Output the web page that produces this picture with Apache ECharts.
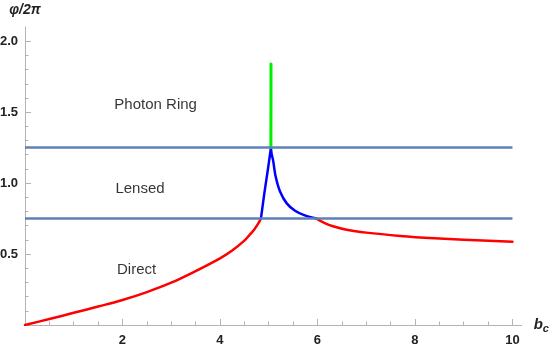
<!DOCTYPE html>
<html><head><meta charset="utf-8">
<script src="https://cdn.jsdelivr.net/npm/echarts@6/dist/echarts.min.js"></script>
<style>html,body{margin:0;padding:0;background:#fff}#c{width:552px;height:347px}</style>
</head><body><div id="c"></div>
<script>
// Direct (red, left branch)
const directLeftX = [0, 0.5, 1, 1.5, 2, 2.5, 3, 3.5, 4, 4.25, 4.5, 4.6, 4.7, 4.78, 4.84];
const directLeftY = [0, 0.042, 0.086, 0.13, 0.176, 0.232, 0.298, 0.38, 0.47, 0.525, 0.595, 0.632, 0.672, 0.712, 0.75];
// Lensed (blue, left and right of the peak)
const lensedLeftX = [4.84, 4.91, 4.98, 5.03, 5.045];
const lensedLeftY = [0.75, 0.927, 1.09, 1.21, 1.25];
const lensedRightX = [5.045, 5.06, 5.09, 5.14, 5.23, 5.37, 5.54, 5.74, 5.98];
const lensedRightY = [1.25, 1.205, 1.16, 1.05, 0.943, 0.857, 0.805, 0.772, 0.75];
// Photon ring (green spike)
const ringX = [5.045, 5.046, 5.047];
const ringY = [1.25, 1.5, 1.84];
// Direct (red, right branch)
const directRightX = [5.98, 6.15, 6.32, 6.6, 7.0, 7.7, 8.4, 9.0, 10];
const directRightY = [0.75, 0.718, 0.696, 0.671, 0.651, 0.628, 0.611, 0.6, 0.587];
// Region boundaries
const boundaries = [0.75, 1.25];
const boundaryX = [0, 10];
// Region labels
const regionNames = ['Photon Ring', 'Lensed', 'Direct'];
const regionX = [2.68, 2.36, 2.29];
const regionY = [1.55, 0.958, 0.387];
const xTicks = [2, 4, 6, 8, 10];
const yTicks = [0.5, 1.0, 1.5, 2.0];

const zip = (xs, ys) => xs.map((x, i) => [x, ys[i]]);
const axisColor = '#b3b3b3';
const chart = echarts.init(document.getElementById('c'), null, {renderer: 'canvas'});
const lineSeries = (data, color, w, smooth) => ({
  type: 'line', data, showSymbol: false, smooth: smooth,
  lineStyle: {color, width: w, join: 'round', cap: 'round'}, animation: false, z: 2
});
const series = [
  lineSeries(zip(directLeftX, directLeftY), '#ff0000', 2.5, 0.35),
  lineSeries(zip(lensedLeftX, lensedLeftY), '#0000ff', 2.5, 0.3),
  lineSeries(zip(lensedRightX, lensedRightY), '#0000ff', 2.5, 0.35),
  lineSeries(zip(directRightX, directRightY), '#ff0000', 2.5, 0.35),
  lineSeries(zip(ringX, ringY), '#00ee00', 3, false)
];
boundaries.forEach(b => series.push({
  type: 'line', data: boundaryX.map(x => [x, b]), showSymbol: false,
  lineStyle: {color: '#5E81B5', width: 2.5}, animation: false, z: 3
}));
series.push({
  type: 'scatter', symbolSize: 0, animation: false,
  data: regionNames.map((n, i) => ({value: [regionX[i], regionY[i]], name: n})),
  label: {show: true, position: 'inside', formatter: p => p.name,
    fontFamily: 'Liberation Sans, Arial, sans-serif', fontSize: 15, color: '#000'}
});
chart.setOption({
  backgroundColor: '#fff',
  animation: false,
  grid: {left: 25, right: 30.3, top: 27, bottom: 22, containLabel: false, outerBoundsMode: 'none'},
  xAxis: {
    type: 'value', min: 0, max: 10.19, interval: 2,
    name: '{b|b}{c|c}', nameLocation: 'end', nameGap: 12,
    nameTextStyle: {rich: {
      b: {fontFamily: 'Liberation Sans, Arial', fontWeight: 'bold', fontStyle: 'italic', fontSize: 15, color: '#222'},
      c: {fontFamily: 'Liberation Sans, Arial', fontWeight: 'bold', fontStyle: 'italic', fontSize: 11, color: '#222', padding: [8, 0, 0, 0]}
    }},
    axisLine: {lineStyle: {color: axisColor, width: 1}},
    axisTick: {inside: true, length: 6, lineStyle: {color: axisColor}, customValues: xTicks},
    minorTick: {show: true, splitNumber: 4, length: 3.5, lineStyle: {color: axisColor}},
    axisLabel: {customValues: xTicks, color: '#222', fontWeight: 'bold', fontSize: 13,
      fontFamily: 'Liberation Sans, Arial', margin: 9},
    splitLine: {show: false}
  },
  yAxis: {
    type: 'value', min: 0, max: 2.1, interval: 0.5,
    name: 'φ/2π', nameLocation: 'end', nameGap: 10,
    nameTextStyle: {fontFamily: 'Liberation Sans, Arial', fontWeight: 'bold', fontStyle: 'italic', fontSize: 14, color: '#222', align: 'center'},
    axisLine: {lineStyle: {color: axisColor, width: 1}},
    axisTick: {inside: true, length: 6, lineStyle: {color: axisColor}, customValues: yTicks},
    minorTick: {show: true, splitNumber: 5, length: 3.5, lineStyle: {color: axisColor}},
    axisLabel: {customValues: yTicks, formatter: v => v.toFixed(1), color: '#222', fontWeight: 'bold', fontSize: 13,
      fontFamily: 'Liberation Sans, Arial', margin: 7},
    splitLine: {show: false}
  },
  series
});
</script></body></html>
